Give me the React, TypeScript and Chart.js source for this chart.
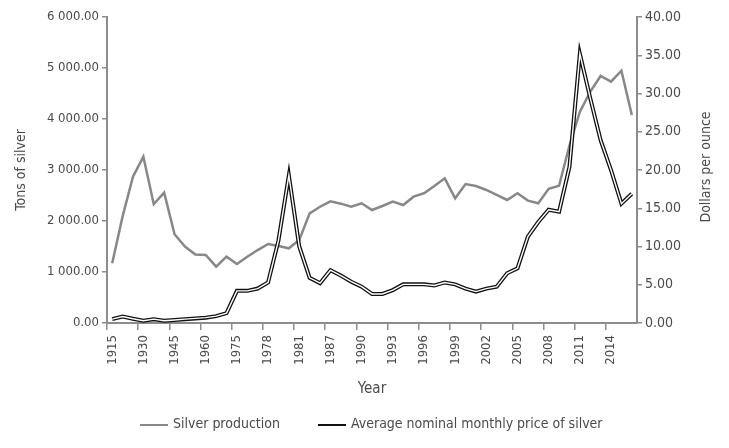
import React, { useEffect, useRef } from 'react';
import Chart from 'chart.js/auto';

// categories: five-yearly to 1975, then yearly (1982-1984 missing in the source)
const years = [
  '1915', '1920', '1925', '1930', '1935', '1940', '1945', '1950', '1955', '1960', '1965', '1970', '1975',
  '1976', '1977', '1978', '1979', '1980', '1981', '1985', '1986', '1987', '1988', '1989', '1990',
  '1991', '1992', '1993', '1994', '1995', '1996', '1997', '1998', '1999', '2000', '2001', '2002',
  '2003', '2004', '2005', '2006', '2007', '2008', '2009', '2010', '2011', '2012', '2013', '2014',
  '2015', '2016',
];

// tons of silver
const production = [
  1170, 2090, 2870, 3260, 2330, 2555, 1740, 1500, 1345, 1333, 1105, 1300, 1157,
  1300, 1430, 1550, 1510, 1465, 1627, 2150, 2280, 2385, 2340, 2280, 2347,
  2216, 2294, 2380, 2314, 2477, 2543, 2686, 2837, 2445, 2725, 2686, 2608,
  2510, 2412, 2543, 2400, 2347, 2630, 2690, 3480, 4140, 4535, 4843, 4732,
  4947, 4078,
];

// dollars per ounce
const price = [
  0.5, 0.85, 0.55, 0.3, 0.5, 0.3, 0.4, 0.5, 0.6, 0.7, 0.9, 1.3, 4.2,
  4.2, 4.5, 5.3, 10.8, 19.3, 10.0, 5.9, 5.2, 6.9, 6.2, 5.4, 4.75,
  3.8, 3.8, 4.3, 5.05, 5.05, 5.05, 4.9, 5.3, 5.05, 4.5, 4.1, 4.5,
  4.75, 6.5, 7.15, 11.3, 13.2, 14.8, 14.55, 20.4, 35.2, 29.4, 23.9, 20.0,
  15.6, 16.9,
];

const FONT = "'Liberation Sans Narrow', 'DejaVu Sans Condensed', 'Liberation Sans', sans-serif";
const TEXT = '#4a4a4a';
const AXIS = '#8c8c8c';
const GRAY = '#888888';

const fmtTons = (v: number) => {
  const [int, dec] = v.toFixed(2).split('.');
  return int.replace(/\B(?=(\d{3})+(?!\d))/g, ' ') + '.' + dec;
};

const extras = {
  id: 'extras',
  afterDraw(chart: any) {
    const { ctx, chartArea } = chart;
    ctx.save();
    ctx.fillStyle = TEXT;
    ctx.font = `14px ${FONT}`;
    ctx.textAlign = 'center';
    ctx.textBaseline = 'middle';
    ctx.translate(706, (chartArea.top + chartArea.bottom) / 2 - 3);
    ctx.rotate(-Math.PI / 2);
    ctx.fillText('Dollars per ounce', 0, 0);
    ctx.restore();

    // legend
    ctx.save();
    ctx.font = `14px ${FONT}`;
    ctx.textBaseline = 'middle';
    ctx.textAlign = 'left';
    const y = 424;
    let x = 140;
    const items = chart.data.datasets.slice(0, 2);
    items.forEach((ds: any) => {
      ctx.strokeStyle = ds.borderColor;
      ctx.lineWidth = 2;
      ctx.beginPath();
      ctx.moveTo(x, y + 1);
      ctx.lineTo(x + 28, y + 1);
      ctx.stroke();
      ctx.fillStyle = TEXT;
      ctx.fillText(ds.label, x + 33, y);
      x += 33 + ctx.measureText(ds.label).width + 38;
    });
    ctx.restore();
  },
};

export default function App() {
  const canvasRef = useRef<HTMLCanvasElement>(null);
  const chartRef = useRef<Chart>();

  useEffect(() => {
    if (!canvasRef.current) return;
    if (chartRef.current) chartRef.current.destroy();
    const ctx = canvasRef.current.getContext('2d');
    if (!ctx) return;

    chartRef.current = new Chart(ctx, {
      type: 'line',
      data: {
        labels: years,
        datasets: [
          {
            label: 'Silver production',
            data: production,
            borderColor: GRAY,
            borderWidth: 2.5,
            pointRadius: 0,
            yAxisID: 'y',
            order: 2,
          },
          {
            label: 'Average nominal monthly price of silver',
            data: price,
            borderColor: '#111111',
            borderWidth: 4,
            pointRadius: 0,
            yAxisID: 'y1',
            order: 1,
          },
          {
            label: '',
            data: price,
            borderColor: '#ffffff',
            borderWidth: 1.4,
            pointRadius: 0,
            yAxisID: 'y1',
            order: 0,
          },
        ],
      },
      options: {
        responsive: true,
        maintainAspectRatio: false,
        animation: false,
        layout: { padding: { top: 17, bottom: 40, left: 0, right: 0 } },
        plugins: {
          legend: { display: false },
          tooltip: { enabled: false },
        },
        scales: {
          x: {
            offset: true,
            grid: {
              offset: true,
              drawOnChartArea: false,
              tickLength: 7,
              lineWidth: 1.5,
              tickColor: (c: any) => (c.index % 3 === 0 ? AXIS : 'rgba(0,0,0,0)'),
            },
            border: { color: AXIS, width: 2 },
            ticks: {
              autoSkip: false,
              maxRotation: 90,
              minRotation: 90,
              padding: 5,
              color: TEXT,
              font: { family: FONT, size: 13 },
              callback: (_v: any, i: number) => (i % 3 === 0 ? years[i] : ''),
            },
            title: {
              display: true,
              text: 'Year',
              color: TEXT,
              font: { family: FONT, size: 15 },
              padding: { top: 0, bottom: 10 },
            },
            afterFit: (s: any) => {
              s.height = 85;
            },
          },
          y: {
            position: 'left',
            min: 0,
            max: 6000,
            grid: { drawOnChartArea: false, tickLength: 5, tickColor: AXIS, lineWidth: 1.5 },
            border: { color: AXIS, width: 2 },
            ticks: {
              stepSize: 1000,
              padding: 3,
              color: TEXT,
              font: { family: FONT, size: 13 },
              callback: (v: any) => fmtTons(Number(v)),
            },
            title: {
              display: true,
              text: 'Tons of silver',
              color: TEXT,
              font: { family: FONT, size: 14 },
              padding: { top: 13, bottom: 0 },
            },
            afterFit: (s: any) => {
              s.width = 107;
            },
          },
          y1: {
            position: 'right',
            min: 0,
            max: 40,
            grid: { drawOnChartArea: false, tickLength: 5, tickColor: AXIS, lineWidth: 1.5 },
            border: { color: AXIS, width: 2 },
            ticks: {
              stepSize: 5,
              padding: 3,
              color: TEXT,
              font: { family: FONT, size: 14 },
              callback: (v: any) => Number(v).toFixed(2),
            },
            afterFit: (s: any) => {
              s.width = 92;
            },
          },
        },
      },
      plugins: [extras],
    });

    return () => {
      if (chartRef.current) {
        chartRef.current.destroy();
        chartRef.current = undefined;
      }
    };
  }, []);

  return (
    <div style={{ position: 'absolute', left: 0, top: 0, width: 729, height: 448 }}>
      <canvas ref={canvasRef} />
    </div>
  );
}
